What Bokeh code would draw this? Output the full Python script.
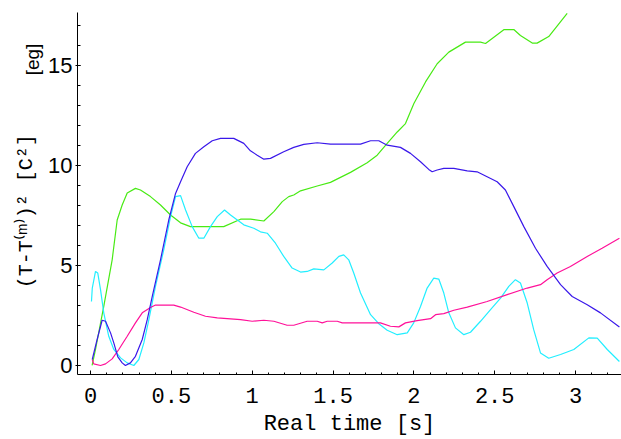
import math
from bokeh.plotting import figure
from bokeh.layouts import row
from bokeh.models import Range1d, FixedTicker, Label
from bokeh.embed import file_html
from bokeh.resources import INLINE

# ---- data ----
green_t = [0.010, 0.031, 0.082, 0.134, 0.165, 0.196, 0.227, 0.278, 0.309, 0.371, 0.433, 0.495,
           0.557, 0.618, 0.824, 0.928, 0.990, 1.072, 1.134, 1.186, 1.226, 1.257, 1.299, 1.402,
           1.484, 1.608, 1.711, 1.773, 1.835, 1.897, 1.948, 2.000, 2.072, 2.144, 2.216, 2.319,
           2.412, 2.443, 2.474, 2.556, 2.618, 2.659, 2.732, 2.762, 2.834, 2.948]
green_v = [0.00, 0.80, 2.95, 5.28, 7.27, 8.02, 8.62, 8.85, 8.77, 8.44, 8.02, 7.52,
           7.13, 6.94, 6.94, 7.31, 7.31, 7.22, 7.69, 8.19, 8.44, 8.52, 8.73, 8.97,
           9.15, 9.65, 10.13, 10.51, 11.10, 11.67, 12.09, 13.09, 14.17, 15.08, 15.66, 16.16,
           16.16, 16.09, 16.28, 16.78, 16.79, 16.49, 16.11, 16.11, 16.44, 17.60]

blue_t = [0.011, 0.041, 0.072, 0.093, 0.124, 0.144, 0.169, 0.196, 0.216, 0.247, 0.278, 0.320,
          0.351, 0.382, 0.433, 0.484, 0.526, 0.557, 0.598, 0.649, 0.701, 0.753, 0.804, 0.886,
          0.948, 0.989, 1.031, 1.072, 1.113, 1.195, 1.257, 1.319, 1.402, 1.484, 1.670, 1.732,
          1.783, 1.835, 1.917, 1.979, 2.041, 2.092, 2.113, 2.144, 2.185, 2.247, 2.330, 2.391,
          2.453, 2.515, 2.566, 2.618, 2.680, 2.752, 2.824, 2.907, 2.979, 3.072, 3.154, 3.271]
blue_v = [0.30, 1.30, 2.26, 2.21, 1.63, 1.13, 0.43, 0.13, 0.00, 0.13, 0.46, 1.30,
          2.29, 3.45, 5.28, 7.27, 8.60, 9.18, 9.93, 10.60, 10.93, 11.23, 11.35, 11.35,
          11.10, 10.73, 10.51, 10.31, 10.35, 10.68, 10.90, 11.05, 11.13, 11.06, 11.06, 11.23,
          11.23, 11.01, 10.90, 10.60, 10.18, 9.80, 9.68, 9.77, 9.85, 9.85, 9.73, 9.68,
          9.43, 9.18, 8.77, 7.94, 6.94, 5.86, 4.95, 4.04, 3.45, 3.04, 2.63, 1.92]

cyan_t = [0.006, 0.011, 0.031, 0.045, 0.062, 0.082, 0.113, 0.144, 0.186, 0.227, 0.268, 0.299,
          0.330, 0.361, 0.402, 0.453, 0.495, 0.526, 0.557, 0.588, 0.629, 0.670, 0.701, 0.742,
          0.784, 0.829, 0.866, 0.948, 1.010, 1.051, 1.093, 1.144, 1.195, 1.247, 1.299, 1.340,
          1.381, 1.443, 1.495, 1.536, 1.566, 1.597, 1.628, 1.670, 1.732, 1.783, 1.835, 1.897,
          1.959, 1.999, 2.041, 2.082, 2.123, 2.154, 2.185, 2.216, 2.257, 2.309, 2.350, 2.412,
          2.474, 2.536, 2.587, 2.628, 2.659, 2.701, 2.741, 2.783, 2.834, 2.907, 2.989, 3.082,
          3.134, 3.196, 3.271]
cyan_v = [3.20, 3.87, 4.70, 4.62, 3.79, 2.63, 1.46, 0.80, 0.38, 0.13, 0.00, 0.30,
          1.13, 2.29, 3.95, 5.78, 7.44, 8.44, 8.49, 7.77, 6.94, 6.36, 6.36, 6.94,
          7.44, 7.77, 7.52, 7.03, 6.86, 6.68, 6.61, 6.11, 5.45, 4.87, 4.67, 4.70,
          4.83, 4.78, 5.12, 5.45, 5.53, 5.28, 4.62, 3.62, 2.54, 2.09, 1.76, 1.54,
          1.63, 2.13, 2.95, 3.87, 4.37, 4.32, 3.62, 2.63, 1.88, 1.54, 1.66, 2.21,
          2.79, 3.37, 3.95, 4.29, 4.12, 3.12, 1.79, 0.63, 0.36, 0.55, 0.80, 1.38,
          1.37, 0.80, 0.20]

magenta_t = [0.011, 0.020, 0.062, 0.093, 0.134, 0.175, 0.227, 0.278, 0.320, 0.371, 0.402, 0.515,
             0.557, 0.639, 0.711, 0.784, 0.928, 1.000, 1.072, 1.134, 1.216, 1.257, 1.340, 1.402,
             1.433, 1.464, 1.526, 1.557, 1.793, 1.855, 1.907, 1.948, 2.020, 2.103, 2.134, 2.185,
             2.247, 2.330, 2.453, 2.577, 2.701, 2.783, 2.824, 2.886, 2.968, 3.072, 3.164, 3.271]
magenta_v = [0.30, 0.08, 0.00, 0.08, 0.33, 0.80, 1.46, 2.13, 2.63, 2.90, 3.02, 3.02,
             2.92, 2.66, 2.46, 2.38, 2.29, 2.21, 2.26, 2.21, 2.01, 2.01, 2.21, 2.21,
             2.13, 2.21, 2.21, 2.13, 2.13, 1.96, 1.93, 2.13, 2.24, 2.34, 2.54, 2.59,
             2.76, 2.92, 3.20, 3.54, 3.87, 4.04, 4.29, 4.62, 4.95, 5.45, 5.86, 6.36]

x_ticks = [0, 0.5, 1, 1.5, 2, 2.5, 3]
x_tick_labels = ["0", "0.5", "1", "1.5", "2", "2.5", "3"]
y_ticks = [0, 5, 10, 15]
y_tick_labels = ["0", "5", "10", "15"]

x_label = "Real time [s]"
y_label = "(T-T\u207d\u1d50\u207e)\u00b2 [C\u00b2]"
stray_label = "[eg]"

X0, X1 = -0.0804, 3.284
Y0, Y1 = -0.45, 17.64

mono = "Liberation Mono"
sans = "Liberation Sans"

W, H = 621, 439
LW = 45  # width of the left strip holding the rotated labels

# ---- left strip with the vertical labels (pixel coordinates, top-down) ----
left = figure(width=LW, height=H, output_backend="svg", toolbar_location=None,
              x_range=Range1d(0, LW), y_range=Range1d(H, 0),
              x_axis_location=None, y_axis_location=None,
              min_border_left=0, min_border_right=0, min_border_top=0, min_border_bottom=0)
left.outline_line_color = None
left.grid.visible = False
left.background_fill_color = "white"
left.border_fill_color = "white"
left.add_layout(Label(x=26, y=241, text=y_label, angle=math.pi / 2,
                      text_font=mono, text_font_size="20px", text_align="center",
                      text_baseline="middle", text_color="black"))
left.add_layout(Label(x=32, y=57, text=stray_label, angle=math.pi / 2,
                      text_font=sans, text_font_size="19px", text_align="center",
                      text_baseline="middle", text_color="black"))

# ---- main plot ----
p = figure(width=W - LW, height=H, output_backend="svg", toolbar_location=None,
           x_range=Range1d(X0, X1), y_range=Range1d(Y0, Y1),
           min_border_left=77 - LW, min_border_right=0, min_border_top=12, min_border_bottom=64)
p.outline_line_color = None
p.grid.visible = False
p.background_fill_color = "white"
p.border_fill_color = "white"

series = [
    (green_t, green_v, "#48ea14"),
    (cyan_t, cyan_v, "#22eeff"),
    (magenta_t, magenta_v, "#ff1199"),
    (blue_t, blue_v, "#3a18ea"),
]
for t, v, c in series:
    p.line(t, v, line_color=c, line_width=1.2)

xa = p.xaxis[0]
xa.ticker = FixedTicker(ticks=x_ticks, minor_ticks=[round(0.1 * i, 2) for i in range(0, 33)])
xa.major_label_overrides = {t: s for t, s in zip(x_ticks, x_tick_labels)}
xa.major_tick_in = 4
xa.major_tick_out = 0
xa.minor_tick_in = 2
xa.minor_tick_out = 0
xa.major_label_standoff = 13
xa.major_label_text_font = mono
xa.major_label_text_font_size = "22px"
xa.major_label_text_color = "black"
xa.axis_line_color = "black"
xa.axis_label = x_label
xa.axis_label_text_font = mono
xa.axis_label_text_font_size = "22px"
xa.axis_label_text_font_style = "normal"
xa.axis_label_text_color = "black"
xa.axis_label_standoff = 6

ya = p.yaxis[0]
ya.ticker = FixedTicker(ticks=y_ticks, minor_ticks=list(range(0, 18)))
ya.major_label_overrides = {t: s for t, s in zip(y_ticks, y_tick_labels)}
ya.major_tick_in = 3
ya.major_tick_out = 2
ya.minor_tick_in = 3
ya.minor_tick_out = 0
ya.major_label_standoff = 3
ya.major_label_text_font = sans
ya.major_label_text_font_size = "22px"
ya.major_label_text_color = "black"
ya.axis_line_color = "black"

layout = row(left, p, spacing=0)
open("out.html", "w").write(file_html(layout, INLINE))
